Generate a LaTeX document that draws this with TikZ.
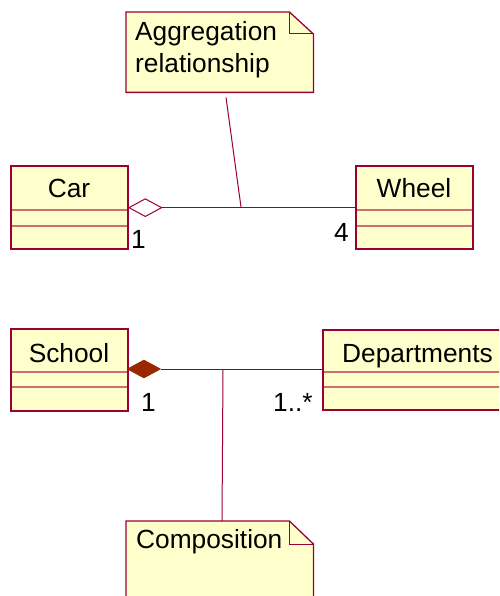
\documentclass[tikz,border=0pt]{standalone}
\usepackage{fontspec}
\setmainfont{Liberation Sans}
\usetikzlibrary{shapes.geometric,calc}

\definecolor{umlline}{RGB}{153,0,51}
\definecolor{umlsep}{RGB}{206,110,120}
\definecolor{umlfill}{RGB}{255,255,204}
\definecolor{umlsolid}{RGB}{153,40,0}

\tikzset{
  classbox/.style={draw=umlline, line width=1.3pt, fill=umlfill, anchor=north west,
                   inner sep=0pt, minimum width=116pt, minimum height=82pt},
  noteframe/.style={inner sep=0pt, anchor=north west},
  noteline/.style={draw=umlline, line width=1.3pt, fill=umlfill, line join=miter},
  sepline/.style={draw=umlsep, line width=1.1pt},
  link/.style={draw=umlline, line width=1pt},
  umltext/.style={inner sep=0pt, font=\fontsize{26.3}{31}\selectfont},
  hollowdia/.style={diamond, draw=umlline, fill=white, line width=1pt, inner sep=0pt,
                    minimum width=33pt, minimum height=18pt},
  soliddia/.style={diamond, draw=umlsolid, fill=umlsolid, line width=0.8pt, inner sep=0pt,
                   minimum width=33pt, minimum height=18pt}
}

\begin{document}
\begin{tikzpicture}[x=1pt, y=-1pt]
  \useasboundingbox (0,0) rectangle (499,596);
  \clip (0,0) rectangle (499,596);

  % ---- aggregation: Car <>-- Wheel ----
  \node[noteframe, minimum width=187pt, minimum height=80pt] (aggnote) at (126,12) {};
  \path[noteline] (aggnote.north west) -- ($(aggnote.north east)+(-24,0)$)
     -- ($(aggnote.north east)+(0,22)$) -- (aggnote.south east)
     -- (aggnote.south west) -- cycle;
  \draw[link] ($(aggnote.north east)+(-24,0)$) |- ($(aggnote.north east)+(0,22)$);
  \node[umltext, anchor=base west] (aggtxt1) at (135,41) {Aggregation};
  \node[umltext, anchor=base west] (aggtxt2) at (135,73) {relationship};

  \node[classbox] (car) at (11,166) {};
  \draw[sepline] (11,210) -- (127,210) (11,226) -- (127,226);
  \draw[umlline, line width=1.3pt] (car.north west) rectangle (car.south east);
  \node[umltext, anchor=base] (cartxt) at (69,197) {Car};

  \node[classbox] (wheel) at (356,166) {};
  \draw[sepline] (356,210) -- (472,210) (356,226) -- (472,226);
  \draw[umlline, line width=1.3pt] (wheel.north west) rectangle (wheel.south east);
  \node[umltext, anchor=base] (wheeltxt) at (414,197) {Wheel};

  \node[hollowdia, anchor=west] (aggdia) at (car.east) {};
  \draw[link] (aggdia.east) -- (wheel.west);
  \coordinate (aggjoin) at (241,207);
  \draw[link] ($(aggnote.south west)+(100,5)$) -- (aggjoin);

  \node[umltext, anchor=base west] (carmult) at (131,248) {1};
  \node[umltext, anchor=base west] (wheelmult) at (334,241) {4};

  % ---- composition: School <filled>-- Departments ----
  \node[classbox, minimum height=81pt] (school) at (11,329) {};
  \draw[sepline] (11,372) -- (127,372) (11,387) -- (127,387);
  \draw[umlline, line width=1.3pt] (school.north west) rectangle (school.south east);
  \node[umltext, anchor=base] (schooltxt) at (69,362) {School};

  \node[classbox, minimum width=190pt, minimum height=79pt] (dept) at (323,330) {};
  \draw[sepline] (323,372) -- (513,372) (323,387) -- (513,387);
  \draw[umlline, line width=1.3pt] (dept.north west) rectangle (dept.south east);
  \node[umltext, anchor=base west] (depttxt) at (342,362) {Departments};

  \node[soliddia, anchor=west] (compdia) at (127,369) {};
  \draw[link] (compdia.east) -- (323,369);

  \node[noteframe, minimum width=187pt, minimum height=90pt] (compnote) at (126,521) {};
  \path[noteline] (compnote.north west) -- ($(compnote.north east)+(-24,0)$)
     -- ($(compnote.north east)+(0,23)$) -- (compnote.south east)
     -- (compnote.south west) -- cycle;
  \draw[link] ($(compnote.north east)+(-24,0)$) |- ($(compnote.north east)+(0,23)$);
  \node[umltext, anchor=base west] (comptxt) at (136,548) {Composition};

  \coordinate (compjoin) at (223,369);
  \draw[link] (compjoin) -- ($(compnote.north west)+(96,0)$);

  \node[umltext, anchor=base west] (schoolmult) at (141,411) {1};
  \node[umltext, anchor=base west] (deptmult) at (273,411) {1..*};
\end{tikzpicture}
\end{document}
